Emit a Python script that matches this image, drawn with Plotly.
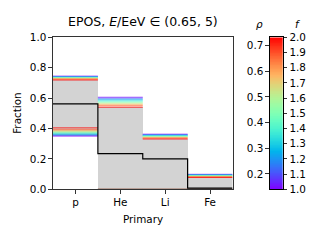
import numpy as np
import plotly.graph_objects as go

categories = ["p", "He", "Li", "Fe"]
f_values = [1.0, 1.1, 1.2, 1.3, 1.4, 1.5, 1.6, 1.7, 1.8, 1.9, 2.0]

# upper edges per f (rows) for each primary (cols)
upper = [
    [0.745, 0.606, 0.363, 0.099],
    [0.742, 0.600, 0.360, 0.097],
    [0.740, 0.593, 0.357, 0.095],
    [0.738, 0.587, 0.354, 0.093],
    [0.736, 0.580, 0.351, 0.091],
    [0.734, 0.573, 0.348, 0.089],
    [0.732, 0.567, 0.345, 0.087],
    [0.730, 0.561, 0.342, 0.085],
    [0.727, 0.555, 0.339, 0.083],
    [0.724, 0.549, 0.336, 0.081],
    [0.719, 0.540, 0.331, 0.078],
]
# lower edges per f
lower = [
    [0.350, 0.0, 0.0, 0.0],
    [0.355, 0.0, 0.0, 0.0],
    [0.360, 0.0, 0.0, 0.0],
    [0.365, 0.0, 0.0, 0.0],
    [0.370, 0.0, 0.0, 0.0],
    [0.375, 0.0, 0.0, 0.0],
    [0.380, 0.0, 0.0, 0.0],
    [0.385, 0.0, 0.0, 0.0],
    [0.390, 0.0, 0.0, 0.0],
    [0.396, 0.0, 0.0, 0.0],
    [0.405, 0.0, 0.0, 0.0],
]
gray_lo = [0.350, 0.0, 0.0, 0.0]
gray_hi = [0.719, 0.540, 0.331, 0.078]
black_vals = [0.5625, 0.235, 0.200, 0.008]

f_ticks = [1.0, 1.1, 1.2, 1.3, 1.4, 1.5, 1.6, 1.7, 1.8, 1.9, 2.0]
rho_ticks = [0.2, 0.3, 0.4, 0.5, 0.6, 0.7]
rho_range = [0.1396, 0.7322]
f_range = [1.0, 2.0]


def rainbow(t):
    r = min(1.0, abs(2 * t - 0.5))
    g = max(0.0, min(1.0, np.sin(np.pi * t)))
    b = max(0.0, min(1.0, np.cos(np.pi * t / 2)))
    return "rgb(%d,%d,%d)" % (round(r * 255), round(g * 255), round(b * 255))


scale = [[t, rainbow(t)] for t in np.linspace(0, 1, 41)]

W, H = 320, 240
ax_l, ax_r, ax_t, ax_b = 53, 232.5, 33, 193
cb_l, cb_r = 270, 282.7
ydom = [(H - ax_b) / H, (H - ax_t) / H]

FONT = "DejaVu Sans"
LC = "#333333"

fig = go.Figure()

n = len(categories)
xs = list(range(n))
fig.add_trace(go.Bar(
    x=xs, y=[h - l for h, l in zip(gray_hi, gray_lo)], base=gray_lo, width=1,
    marker=dict(color="#d3d3d3", line=dict(width=0)), showlegend=False,
    hoverinfo="skip"))

for fi, f in enumerate(f_values):
    col = rainbow((f - f_range[0]) / (f_range[1] - f_range[0]))
    sx, sy = [], []
    for i in range(n):
        for arr in (upper, lower):
            sx += [i - 0.5, i + 0.5, None]
            sy += [arr[fi][i], arr[fi][i], None]
    fig.add_trace(go.Scatter(x=sx, y=sy, mode="lines",
                             line=dict(color=col, width=1),
                             opacity=0.7, showlegend=False, hoverinfo="skip"))

fig.add_trace(go.Scatter(
    x=[i - 0.5 for i in xs] + [n - 0.5], y=black_vals + [black_vals[-1]],
    mode="lines", line=dict(color="black", width=1.2, shape="hv"),
    showlegend=False, hoverinfo="skip"))

# colorbar drawn as a heatmap
N = 200
cy = [f_range[0] + (k + 0.5) * (f_range[1] - f_range[0]) / N for k in range(N)]
fig.add_trace(go.Heatmap(z=[[v] for v in cy], x=[0], y=cy, colorscale=scale,
                         zmin=f_range[0], zmax=f_range[1], showscale=False,
                         xaxis="x2", yaxis="y2", hoverinfo="skip"))
fig.add_trace(go.Scatter(x=[None], y=[None], xaxis="x2", yaxis="y3",
                         showlegend=False, hoverinfo="skip"))

tickfont = dict(family=FONT, size=10.4, color="black")
common = dict(showline=True, linecolor=LC, linewidth=1, ticks="outside",
              ticklen=3.6, tickcolor=LC, tickwidth=1, showgrid=False,
              zeroline=False, tickfont=tickfont)

fig.update_layout(
    width=W, height=H, margin=dict(l=0, r=0, t=0, b=0), autosize=False,
    paper_bgcolor="white", plot_bgcolor="white", hovermode=False,
    bargap=0,
    xaxis=dict(domain=[ax_l / W, ax_r / W], range=[-0.5, n - 0.5],
               tickvals=xs, ticktext=categories, mirror=True, **common),
    yaxis=dict(domain=ydom, range=[0, 1], tickvals=[0, 0.2, 0.4, 0.6, 0.8, 1.0],
               ticktext=["0.0", "0.2", "0.4", "0.6", "0.8", "1.0"], mirror=True,
               **common),
    xaxis2=dict(domain=[cb_l / W, cb_r / W], range=[-0.5, 0.5], anchor="y2",
                showticklabels=False, showline=True, mirror=True,
                linecolor="black", linewidth=1, showgrid=False, zeroline=False,
                ticks=""),
    yaxis2=dict(domain=ydom, range=f_range, anchor="x2", side="right",
                tickvals=f_ticks, ticktext=["%.1f" % v for v in f_ticks],
                mirror=False, **{**common, "linecolor": "black"}),
    yaxis3=dict(range=rho_range, anchor="x2", overlaying="y2", side="left",
                tickvals=rho_ticks, ticktext=["%.1f" % v for v in rho_ticks],
                **{**common, "linecolor": "black"}),
    annotations=[
        dict(text="EPOS, <i>E</i>/EeV ∈ (0.65, 5)", x=(ax_l + ax_r) / 2 / W,
             y=1 - 16.5 / H, xref="paper", yref="paper", showarrow=False,
             xanchor="center", yanchor="middle",
             font=dict(family=FONT, size=12.5, color="black")),
        dict(text="Fraction", x=17.5 / W, y=1 - 113 / H, xref="paper",
             yref="paper", showarrow=False, textangle=-90, xanchor="center",
             yanchor="middle", font=dict(family=FONT, size=10.4, color="black")),
        dict(text="Primary", x=(ax_l + ax_r) / 2 / W, y=1 - 224.5 / H,
             xref="paper", yref="paper", showarrow=False, xanchor="center",
             yanchor="middle", font=dict(family=FONT, size=10.4, color="black")),
        dict(text="<i>ρ</i>", x=259 / W, y=1 - 18.5 / H, xref="paper",
             yref="paper", showarrow=False, xanchor="center", yanchor="middle",
             font=dict(family=FONT, size=10.4, color="black")),
        dict(text="<i>f</i>", x=297.5 / W, y=1 - 18.5 / H, xref="paper",
             yref="paper", showarrow=False, xanchor="center", yanchor="middle",
             font=dict(family=FONT, size=10.4, color="black")),
    ],
)

fig.write_html("out.html", config={"displayModeBar": False},
               post_script="document.body.style.margin='0';"
                           "document.body.style.overflow='hidden';")
